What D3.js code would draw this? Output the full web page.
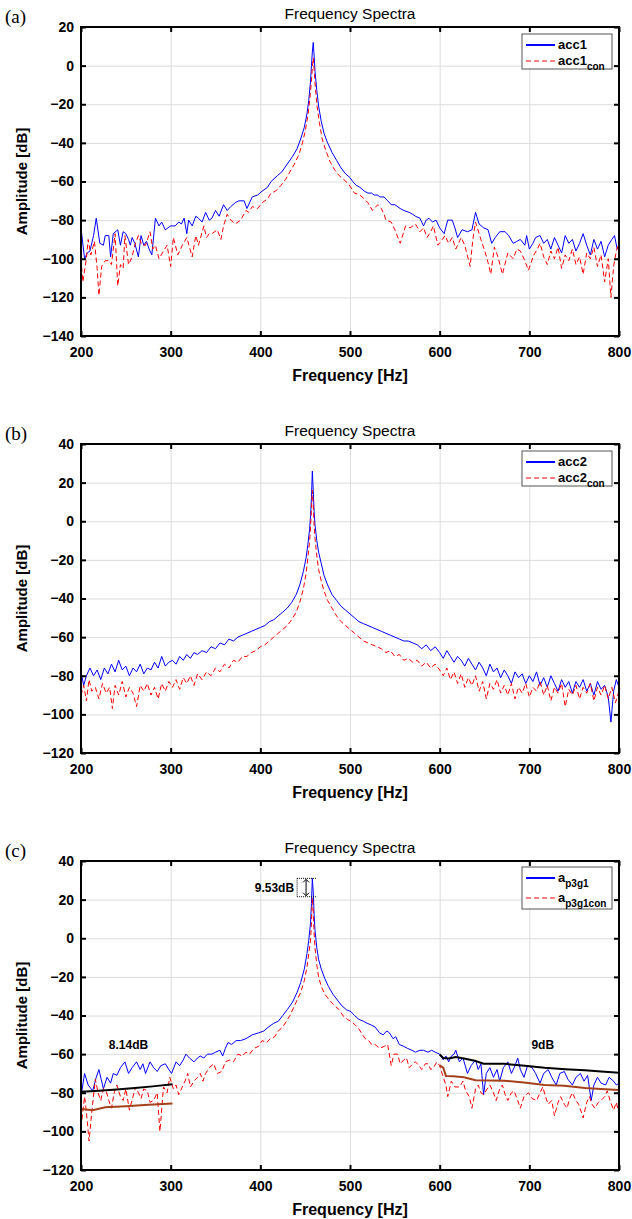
<!DOCTYPE html>
<html>
<head>
<meta charset="utf-8">
<script src="https://cdn.jsdelivr.net/npm/d3@7"></script>
<style>
  body { margin: 0; background: #fff; }
  text { font-family: "Liberation Sans", Arial, sans-serif; }
</style>
</head>
<body>
<div id="chart"></div>
<script>
// Frequency ticks shared by all panels
const freqTicks = [200, 300, 400, 500, 600, 700, 800]
const ticksA = [20, 0, -20, -40, -60, -80, -100, -120, -140]
const ticksBC = [40, 20, 0, -20, -40, -60, -80, -100, -120]

// (a) acc1 / acc1con  [Hz, dB]
const acc1 = [[200,-84],[204,-100],[207,-97],[210,-96],[214,-88],[217,-79],[221,-92],[225,-93],[227,-88],[231,-88],[233,-99],[236,-87],[241,-85],[244,-93],[247,-86],[250,-87],[253,-90],[255,-93],[257,-89],[260,-92],[264,-99],[267,-88],[270,-93],[273,-91],[276,-95],[279,-98],[283,-79],[287,-83],[290,-81],[294,-85],[297,-84],[300,-83],[305,-83],[309,-81],[312,-82],[315,-79],[318,-87],[320,-80],[324,-83],[328,-78],[331,-79],[335,-81],[339,-76],[343,-80],[346,-79],[350,-75],[354,-78],[359,-72],[363,-75],[367,-73],[372,-71],[376,-70],[382,-70],[385,-74],[391,-68],[397,-67],[402,-65],[408,-63],[412,-60],[419,-57],[424,-55],[430,-51],[436,-47],[441,-43],[445,-38],[449,-32],[452,-25],[454,-18],[456,-8],[457,0],[458,7],[459,12],[460,5],[461,-3],[463,-13],[465,-21],[468,-29],[471,-35],[475,-40],[480,-45],[485,-49],[490,-53],[495,-56],[500,-58],[503,-60],[507,-62],[511,-63],[516,-65],[520,-66],[524,-66],[527,-67],[531,-67],[533,-68],[538,-68],[542,-70],[546,-72],[550,-72],[556,-74],[560,-75],[566,-76],[570,-77],[573,-78],[578,-79],[582,-83],[585,-80],[588,-79],[592,-81],[596,-80],[600,-84],[605,-87],[609,-80],[614,-80],[617,-84],[620,-89],[625,-85],[631,-86],[636,-85],[640,-76],[644,-82],[649,-84],[654,-85],[658,-92],[662,-89],[667,-86],[673,-86],[677,-88],[682,-92],[686,-91],[690,-90],[695,-93],[697,-88],[700,-95],[704,-92],[707,-89],[712,-88],[716,-92],[720,-90],[724,-95],[728,-89],[732,-93],[736,-97],[740,-88],[744,-92],[748,-90],[752,-96],[756,-92],[760,-87],[764,-93],[768,-98],[772,-90],[776,-95],[780,-91],[784,-99],[788,-93],[792,-90],[795,-88],[798,-95],[800,-93]]
const acc1con = [[200,-100],[202,-112],[206,-100],[208,-90],[211,-98],[215,-91],[218,-105],[220,-119],[223,-104],[227,-101],[231,-101],[234,-103],[238,-87],[241,-114],[244,-103],[247,-105],[249,-88],[253,-103],[257,-99],[260,-93],[264,-88],[268,-93],[272,-93],[277,-86],[280,-95],[283,-93],[287,-100],[292,-96],[296,-93],[300,-104],[303,-89],[308,-98],[313,-93],[318,-89],[321,-94],[324,-99],[328,-88],[331,-93],[337,-83],[340,-89],[343,-87],[346,-87],[352,-85],[356,-90],[359,-83],[363,-77],[367,-80],[372,-82],[378,-80],[384,-75],[387,-76],[391,-73],[397,-74],[402,-71],[408,-69],[412,-66],[417,-65],[423,-62],[428,-59],[433,-55],[438,-51],[443,-46],[447,-40],[450,-34],[453,-26],[455,-18],[457,-8],[458,-1],[459,4],[460,-2],[461,-9],[463,-20],[466,-30],[469,-38],[473,-44],[478,-50],[483,-54],[488,-57],[493,-59],[498,-61],[505,-66],[511,-67],[516,-69],[520,-71],[525,-75],[531,-72],[535,-74],[538,-77],[540,-80],[546,-81],[550,-85],[556,-92],[562,-83],[567,-84],[573,-82],[578,-86],[582,-84],[586,-89],[590,-86],[593,-83],[598,-93],[603,-90],[606,-88],[610,-92],[614,-89],[618,-95],[624,-89],[628,-93],[634,-104],[637,-90],[640,-81],[646,-90],[651,-97],[654,-102],[657,-108],[661,-94],[665,-99],[670,-108],[676,-97],[682,-100],[686,-95],[690,-96],[695,-101],[699,-106],[705,-98],[709,-95],[712,-92],[716,-99],[720,-103],[724,-96],[728,-100],[732,-94],[736,-105],[740,-98],[744,-101],[748,-95],[752,-103],[756,-99],[760,-108],[764,-97],[768,-100],[772,-94],[776,-104],[780,-98],[784,-112],[788,-100],[791,-120],[794,-104],[797,-96],[800,-92]]

// (b) acc2 / acc2con
const acc2 = [[200,-78],[203,-85],[206,-80],[210,-76],[214,-80],[218,-77],[222,-82],[226,-76],[230,-79],[234,-74],[238,-78],[242,-72],[246,-77],[250,-75],[254,-80],[258,-76],[262,-78],[266,-74],[270,-79],[274,-76],[278,-77],[282,-73],[286,-76],[290,-70],[294,-75],[298,-73],[302,-72],[306,-74],[310,-70],[314,-72],[318,-69],[322,-71],[326,-68],[330,-69],[335,-67],[340,-68],[345,-65],[350,-66],[355,-63],[360,-64],[365,-61],[370,-62],[375,-60],[380,-59],[385,-58],[390,-57],[395,-56],[400,-55],[405,-54],[410,-52],[415,-51],[420,-49],[425,-47],[430,-45],[435,-42],[440,-38],[444,-33],[448,-26],[451,-19],[453,-12],[455,-4],[456,3],[457,12],[458,26],[459,16],[460,5],[461,-2],[463,-10],[465,-16],[468,-22],[471,-28],[475,-33],[480,-38],[485,-41],[490,-44],[495,-46],[500,-48],[505,-50],[510,-52],[515,-53],[520,-54],[525,-55],[530,-56],[535,-57],[540,-58],[545,-59],[550,-60],[555,-61],[560,-62],[565,-62],[570,-63],[575,-64],[580,-66],[585,-64],[590,-67],[595,-65],[600,-68],[604,-71],[608,-67],[612,-70],[616,-73],[620,-70],[624,-72],[628,-75],[632,-71],[636,-74],[640,-77],[644,-73],[648,-76],[652,-80],[656,-74],[660,-78],[664,-76],[668,-81],[672,-77],[676,-80],[680,-84],[684,-78],[688,-81],[692,-79],[696,-84],[700,-80],[704,-83],[708,-78],[712,-85],[716,-81],[720,-86],[724,-80],[728,-84],[732,-88],[736,-82],[740,-86],[744,-83],[748,-89],[752,-83],[756,-86],[760,-82],[764,-88],[768,-84],[772,-90],[776,-83],[780,-87],[784,-85],[788,-91],[791,-104],[794,-88],[797,-82],[800,-86]]
const acc2con = [[200,-90],[203,-85],[206,-93],[209,-82],[212,-88],[216,-86],[220,-92],[224,-84],[228,-89],[232,-86],[235,-97],[238,-85],[242,-90],[246,-83],[250,-91],[254,-86],[258,-89],[262,-96],[266,-85],[270,-88],[274,-84],[278,-90],[282,-86],[286,-92],[290,-84],[294,-88],[298,-83],[302,-86],[306,-82],[310,-87],[314,-81],[318,-84],[322,-80],[326,-85],[330,-79],[335,-82],[340,-78],[345,-80],[350,-76],[355,-78],[360,-74],[365,-76],[370,-72],[375,-73],[380,-70],[385,-70],[390,-68],[395,-67],[400,-65],[405,-64],[410,-62],[415,-60],[420,-58],[425,-56],[430,-54],[435,-51],[440,-47],[444,-42],[448,-35],[451,-27],[453,-19],[455,-10],[456,-3],[457,6],[458,16],[459,8],[460,-2],[461,-9],[463,-18],[465,-25],[468,-31],[471,-36],[475,-41],[480,-45],[485,-49],[490,-52],[495,-54],[500,-56],[505,-58],[510,-60],[515,-62],[520,-63],[525,-64],[530,-65],[535,-66],[540,-68],[545,-67],[550,-70],[555,-69],[560,-72],[565,-71],[570,-73],[575,-72],[580,-75],[585,-73],[590,-76],[595,-74],[600,-77],[604,-80],[608,-76],[612,-82],[616,-78],[620,-84],[624,-79],[628,-86],[632,-81],[636,-85],[640,-80],[644,-88],[648,-83],[652,-92],[656,-84],[660,-87],[664,-82],[668,-89],[672,-85],[676,-90],[680,-84],[684,-92],[688,-86],[692,-89],[696,-84],[700,-91],[704,-86],[708,-88],[712,-83],[716,-90],[720,-85],[724,-93],[728,-86],[732,-89],[736,-84],[740,-96],[744,-87],[748,-90],[752,-85],[756,-92],[760,-86],[764,-89],[768,-84],[772,-93],[776,-86],[780,-90],[784,-85],[788,-92],[792,-86],[796,-94],[800,-88]]

// (c) ap3g1 / ap3g1con
const ap3g1 = [[200,-82],[204,-70],[208,-76],[213,-79],[217,-72],[220,-68],[225,-78],[229,-72],[233,-75],[236,-70],[240,-71],[244,-67],[249,-64],[253,-70],[257,-67],[262,-64],[266,-68],[269,-65],[272,-70],[277,-64],[281,-67],[285,-69],[289,-66],[294,-65],[298,-68],[301,-70],[306,-64],[310,-66],[314,-63],[317,-60],[321,-62],[326,-64],[330,-62],[333,-61],[337,-62],[341,-60],[346,-60],[350,-59],[355,-58],[358,-61],[361,-57],[364,-54],[368,-55],[373,-53],[378,-53],[384,-52],[391,-50],[398,-49],[404,-48],[409,-46],[415,-44],[420,-43],[425,-40],[430,-37],[436,-33],[441,-28],[445,-23],[449,-16],[452,-8],[454,-1],[456,8],[457,18],[458,31],[459,24],[460,12],[461,4],[463,-5],[465,-11],[468,-16],[472,-21],[476,-25],[481,-29],[486,-32],[491,-35],[496,-37],[501,-38],[505,-40],[510,-42],[515,-43],[519,-44],[524,-45],[528,-46],[533,-49],[537,-50],[541,-48],[544,-49],[548,-52],[551,-51],[555,-55],[560,-56],[564,-57],[569,-58],[573,-59],[578,-58],[582,-58],[587,-59],[591,-58],[595,-59],[600,-60],[604,-63],[607,-61],[610,-64],[613,-61],[616,-60],[618,-58],[622,-64],[626,-62],[631,-70],[635,-66],[640,-63],[643,-68],[646,-65],[649,-81],[652,-70],[656,-67],[660,-72],[664,-68],[667,-74],[671,-67],[676,-64],[680,-70],[684,-66],[687,-62],[690,-68],[694,-72],[698,-66],[703,-67],[707,-70],[712,-75],[716,-70],[721,-68],[725,-72],[730,-76],[734,-70],[739,-69],[743,-73],[748,-76],[752,-72],[757,-70],[761,-74],[765,-71],[769,-84],[772,-76],[776,-72],[780,-75],[785,-76],[789,-72],[794,-74],[797,-76],[800,-75]]
const ap3g1con = [[200,-98],[204,-82],[206,-90],[209,-105],[212,-90],[216,-73],[219,-80],[222,-84],[225,-78],[228,-79],[231,-84],[234,-88],[237,-80],[240,-76],[244,-82],[247,-84],[250,-78],[254,-89],[258,-82],[261,-77],[264,-80],[267,-83],[270,-78],[274,-79],[277,-85],[281,-84],[285,-80],[288,-100],[292,-77],[296,-80],[299,-72],[303,-78],[306,-76],[309,-81],[312,-78],[316,-74],[319,-70],[322,-77],[326,-74],[330,-72],[333,-70],[336,-74],[339,-70],[343,-67],[348,-65],[352,-70],[357,-69],[361,-64],[366,-63],[370,-64],[375,-60],[380,-61],[384,-59],[388,-60],[393,-57],[398,-56],[402,-53],[407,-54],[411,-52],[416,-51],[420,-48],[425,-46],[429,-43],[433,-40],[437,-36],[441,-32],[445,-28],[449,-22],[452,-15],[454,-8],[456,-1],[457,8],[458,21],[459,14],[460,3],[461,-5],[463,-14],[465,-20],[468,-25],[472,-29],[477,-32],[483,-35],[488,-37],[492,-40],[497,-42],[501,-43],[506,-45],[510,-47],[514,-50],[517,-52],[521,-53],[524,-55],[528,-55],[533,-57],[538,-56],[542,-55],[546,-66],[549,-60],[553,-60],[556,-65],[560,-63],[563,-62],[566,-67],[570,-65],[573,-64],[577,-66],[580,-68],[584,-65],[587,-65],[590,-68],[593,-67],[597,-64],[600,-66],[604,-72],[607,-76],[609,-82],[613,-74],[617,-77],[622,-77],[626,-74],[629,-79],[633,-82],[636,-88],[640,-78],[643,-76],[646,-80],[649,-81],[653,-78],[656,-76],[660,-80],[663,-84],[667,-78],[670,-76],[673,-81],[676,-84],[680,-80],[683,-79],[687,-84],[690,-88],[694,-82],[699,-80],[703,-83],[708,-84],[712,-80],[715,-77],[718,-82],[721,-86],[725,-84],[728,-92],[732,-85],[735,-82],[739,-86],[742,-88],[745,-83],[748,-80],[752,-84],[755,-86],[758,-90],[760,-93],[764,-85],[767,-82],[770,-86],[773,-88],[777,-85],[780,-84],[784,-82],[787,-79],[790,-84],[794,-89],[797,-85],[800,-91]]

// (c) envelope lines
const envBlackLow = [[200,-79.5],[220,-79],[240,-78.3],[260,-77.6],[280,-76.7],[302,-75.6]]
const envBrownLow = [[200,-88.4],[213,-89],[227,-87.5],[250,-87],[275,-86.2],[302,-85.6]]
const envBlackHigh = [[600,-60.2],[604,-62],[610,-62.3],[618,-61.5],[630,-62.5],[640,-63.6],[649,-65],[672,-65],[695,-66],[717,-67],[740,-67.8],[762,-68.4],[780,-69],[800,-69.6]]
const envBrownHigh = [[600,-65.8],[604,-67],[607,-71.3],[615,-71.5],[627,-72],[640,-73.5],[672,-73.8],[694,-74.7],[717,-76],[739,-76.4],[762,-77.6],[780,-78],[800,-78.6]]

// (c) annotations
const gapNotes = [{f: 253, v: -55, text: '8.14dB'}, {f: 715, v: -55, text: '9dB'}]
const peakGap = {top: 31, bottom: 21.5, text: '9.53dB'}

const panels = [
  {tag: '(a)', yDomain: [-140, 20], yTicks: ticksA, blue: acc1, red: acc1con, name: 'acc1', sub1: '', sub2: 'con'},
  {tag: '(b)', yDomain: [-120, 40], yTicks: ticksBC, blue: acc2, red: acc2con, name: 'acc2', sub1: '', sub2: 'con'},
  {tag: '(c)', yDomain: [-120, 40], yTicks: ticksBC, blue: ap3g1, red: ap3g1con, name: 'a', sub1: 'p3g1', sub2: 'p3g1con'}
]

const width = 538
const height = 309
const margin = {left: 81, top: 27}
const panelStep = 417

const svg = d3.select('#chart').append('svg')
  .attr('width', 632)
  .attr('height', 1219)

const xScale = d3.scaleLinear().domain([200, 800]).range([0, width])

panels.forEach((p, i) => drawPanel(p, i))

function drawPanel(p, i) {
  const top = margin.top + i * panelStep
  const yScale = d3.scaleLinear().domain(p.yDomain).range([height, 0])
  const g = svg.append('g').attr('transform', `translate(${margin.left},${top})`)

  // Grid
  g.append('g').attr('transform', `translate(0,${height})`)
    .call(d3.axisBottom(xScale).tickValues(freqTicks).tickSize(-height).tickFormat(''))
    .call(s => s.select('.domain').remove())
    .selectAll('line').attr('stroke', '#dcdcdc')
  g.append('g')
    .call(d3.axisLeft(yScale).tickValues(p.yTicks).tickSize(-width).tickFormat(''))
    .call(s => s.select('.domain').remove())
    .selectAll('line').attr('stroke', '#dcdcdc')

  // Data lines
  const clipId = `clip${i}`
  g.append('clipPath').attr('id', clipId)
    .append('rect').attr('width', width).attr('height', height)
  const line = d3.line().x(d => xScale(d[0])).y(d => yScale(d[1]))
  const gLines = g.append('g').attr('clip-path', `url(#${clipId})`)
  gLines.append('path').attr('d', line(p.blue))
    .attr('fill', 'none').attr('stroke', '#0000ff').attr('stroke-width', 1)
  gLines.append('path').attr('d', line(p.red))
    .attr('fill', 'none').attr('stroke', '#ff0000').attr('stroke-width', 1)
    .attr('stroke-dasharray', '5,3')

  if (i === 2) {
    [[envBlackLow, '#000'], [envBlackHigh, '#000'], [envBrownLow, '#a3421a'], [envBrownHigh, '#a3421a']]
      .forEach(([d, c]) => {
        gLines.append('path').attr('d', line(d))
          .attr('fill', 'none').attr('stroke', c).attr('stroke-width', 2)
      })
    gapNotes.forEach(n => {
      g.append('text').attr('x', xScale(n.f)).attr('y', yScale(n.v))
        .attr('text-anchor', 'middle').attr('dy', '0.35em')
        .style('font-size', '12px').style('font-weight', 'bold')
        .text(n.text)
    })
    // Peak gap marker
    const x0 = xScale(441), x1 = xScale(462), xa = xScale(451)
    ;[peakGap.top, peakGap.bottom].forEach(v => {
      g.append('line').attr('x1', x0).attr('x2', x1)
        .attr('y1', yScale(v)).attr('y2', yScale(v))
        .attr('stroke', '#000').attr('stroke-width', 1).attr('stroke-dasharray', '1,1')
    })
    g.append('line').attr('x1', x0).attr('x2', x0)
      .attr('y1', yScale(peakGap.top)).attr('y2', yScale(peakGap.bottom))
      .attr('stroke', '#000').attr('stroke-width', 1).attr('stroke-dasharray', '1,1')
    g.append('line').attr('x1', xa).attr('x2', xa)
      .attr('y1', yScale(peakGap.top) + 1).attr('y2', yScale(peakGap.bottom) - 1)
      .attr('stroke', '#000').attr('stroke-width', 1)
    const yt = yScale(peakGap.top), yb = yScale(peakGap.bottom)
    g.append('path').attr('d', `M${xa - 3},${yt + 4}L${xa},${yt + 1}L${xa + 3},${yt + 4}M${xa - 3},${yb - 4}L${xa},${yb - 1}L${xa + 3},${yb - 4}`)
      .attr('fill', 'none').attr('stroke', '#000').attr('stroke-width', 1)
    g.append('text').attr('x', x0 - 3).attr('y', (yt + yb) / 2)
      .attr('text-anchor', 'end').attr('dy', '0.35em')
      .style('font-size', '12px').style('font-weight', 'bold')
      .text(peakGap.text)
  }

  // Axes with inward ticks
  const bAxis = g.append('g').attr('transform', `translate(0,${height})`)
    .call(d3.axisBottom(xScale).tickValues(freqTicks).tickSize(-5).tickPadding(11))
  const lAxis = g.append('g')
    .call(d3.axisLeft(yScale).tickValues(p.yTicks).tickSize(-5).tickPadding(7))
  g.append('g')
    .call(d3.axisTop(xScale).tickValues(freqTicks).tickSize(-5).tickFormat(''))
  g.append('g').attr('transform', `translate(${width},0)`)
    .call(d3.axisRight(yScale).tickValues(p.yTicks).tickSize(-5).tickFormat(''))
  g.selectAll('.domain').remove()
  g.selectAll('.tick line').filter(function() { return d3.select(this).attr('stroke') !== '#dcdcdc' })
    .attr('stroke-width', 2)
  ;[bAxis, lAxis].forEach(a => a.selectAll('text')
    .style('font-size', '14px').style('font-weight', 'bold').attr('fill', '#000'))

  g.append('rect').attr('width', width).attr('height', height)
    .attr('fill', 'none').attr('stroke', '#000').attr('stroke-width', 2)

  // Titles and labels
  g.append('text').attr('x', width / 2).attr('y', -8)
    .attr('text-anchor', 'middle').style('font-size', '15.5px')
    .text('Frequency Spectra')
  g.append('text').attr('x', width / 2).attr('y', height + 45)
    .attr('text-anchor', 'middle').style('font-size', '16px').style('font-weight', 'bold')
    .text('Frequency [Hz]')
  g.append('text')
    .attr('transform', `translate(${-54},${height / 2}) rotate(-90)`)
    .attr('text-anchor', 'middle').style('font-size', '15px').style('font-weight', 'bold')
    .text('Amplitude [dB]')
  g.append('text').attr('x', -76).attr('y', -4)
    .style('font-family', '"Liberation Serif", "Times New Roman", serif')
    .style('font-size', '19px')
    .text(p.tag)

  // Legend
  const lg = g.append('g').attr('transform', `translate(${width - 97},${i === 2 ? 6 : 7})`)
  const lh = i === 2 ? 42 : 35
  lg.append('rect').attr('width', 90).attr('height', lh)
    .attr('fill', '#fff').attr('stroke', '#555').attr('stroke-width', 1)
  const rows = [
    {y: 11, stroke: '#0000ff', dash: null, sub: p.sub1},
    {y: i === 2 ? 31 : 27, stroke: '#ff8080', dash: '5,3', sub: p.sub2}
  ]
  rows.forEach(r => {
    lg.append('line').attr('x1', 4).attr('x2', 33).attr('y1', r.y).attr('y2', r.y)
      .attr('stroke', r.stroke).attr('stroke-width', 2).attr('stroke-dasharray', r.dash)
    const t = lg.append('text').attr('x', 36).attr('y', r.y + 4)
      .style('font-size', '13px').style('font-weight', 'bold')
    t.append('tspan').text(p.name)
    if (r.sub) {
      t.append('tspan').attr('dy', 5).style('font-size', '10px').text(r.sub)
    }
  })
}
</script>
</body>
</html>
